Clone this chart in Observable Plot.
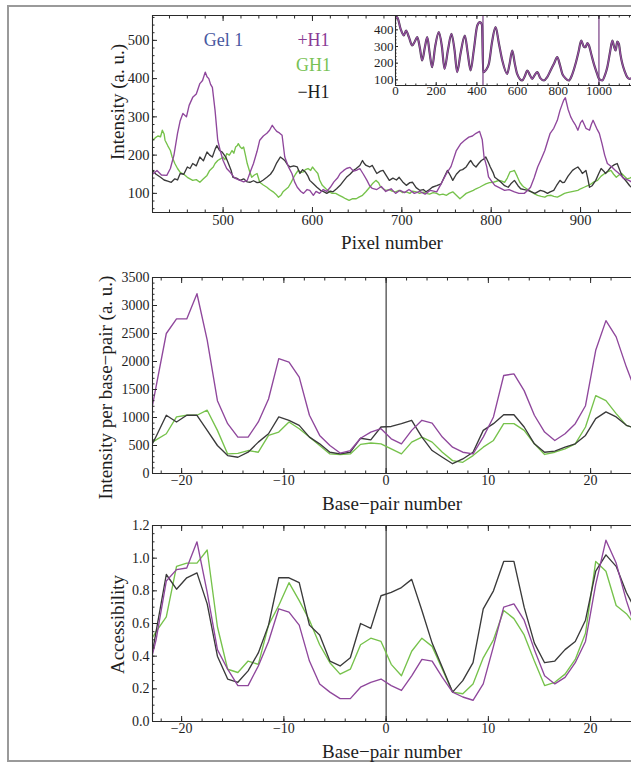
<!DOCTYPE html>
<html><head><meta charset="utf-8">
<script src="https://cdn.jsdelivr.net/npm/d3@7"></script>
<script src="https://cdn.jsdelivr.net/npm/@observablehq/plot@0.6"></script>
<style>
body{margin:0;background:#fff;}
#fig{position:relative;width:631px;height:764px;overflow:hidden;background:#fff;font-family:"Liberation Serif",serif;}
#border{position:absolute;left:7px;top:5px;width:700px;height:757px;border:2px solid #9a9a9a;box-sizing:border-box;}
.panel{position:absolute;}
</style></head><body>
<div id="fig"><div id="border"></div></div>
<script>
// ---------- Panel 1: gel intensity vs pixel number ----------
const gelPlusH1 = [[421,150],[426,160],[431,148],[437,147],[441,165],[445,200],[449,257],[452,290],[455,309],[459,300],[462,330],[466,351],[470,360],[474,387],[477,395],[480,417],[482,405],[484,400],[486,385],[488,377],[491,317],[494,239],[497,210],[500,186],[504,165],[508,155],[513,140],[519,134],[523,130],[527,134],[531,160],[534,178],[538,210],[541,239],[545,250],[549,257],[552,265],[555,278],[558,268],[560,262],[563,258],[566,252],[569,195],[573,170],[577,152],[580,130],[583,116],[587,105],[590,100],[594,110],[597,108],[601,95],[604,105],[608,100],[612,110],[616,105],[620,116],[624,130],[628,140],[631,152],[635,160],[638,165],[642,168],[646,158],[649,160],[653,165],[657,150],[661,134],[664,120],[667,113],[672,110],[677,118],[682,105],[688,112],[693,100],[698,108],[703,102],[708,110],[714,100],[720,105],[726,98],[732,108],[739,104],[744,125],[750,152],[755,170],[761,212],[766,230],[770,238],[775,247],[779,250],[783,257],[787,262],[790,240],[792,195],[795,170],[797,143],[801,130],[804,121],[809,115],[815,108],[820,110],[826,104],[831,100],[837,100],[841,108],[844,116],[848,140],[852,169],[856,190],[860,212],[863,235],[866,257],[870,270],[874,291],[877,317],[879,330],[881,343],[883,350],[886,320],[889,300],[891,291],[894,280],[897,265],[900,285],[902,291],[906,270],[910,265],[912,280],[914,291],[918,270],[921,257],[924,230],[927,200],[930,178],[935,169],[939,160],[943,152],[948,140],[954,134],[957,130]];
const gelGH1 = [[421,239],[424,245],[427,250],[430,248],[432,265],[434,255],[435,239],[438,225],[441,212],[443,195],[446,178],[449,165],[452,155],[456,150],[460,142],[463,138],[466,134],[470,136],[474,129],[478,138],[482,147],[485,160],[489,169],[491,178],[494,186],[497,190],[500,195],[502,188],[504,204],[507,200],[510,212],[512,205],[514,221],[516,225],[517,230],[519,222],[521,217],[523,221],[525,200],[527,178],[530,155],[532,142],[535,148],[538,152],[541,129],[545,122],[549,116],[552,110],[556,104],[559,98],[562,90],[565,96],[567,104],[570,110],[573,116],[576,128],[579,142],[581,150],[584,160],[587,155],[590,156],[592,162],[595,165],[598,160],[600,169],[603,160],[606,152],[608,135],[611,121],[615,112],[619,104],[622,100],[626,100],[630,95],[634,90],[637,86],[641,82],[645,86],[649,86],[652,90],[656,95],[660,105],[664,116],[667,125],[671,134],[674,128],[676,118],[679,112],[682,108],[686,110],[689,106],[693,104],[697,108],[701,102],[705,104],[709,100],[712,106],[716,104],[720,100],[724,103],[727,100],[731,98],[735,102],[739,100],[742,96],[746,98],[750,95],[753,100],[757,104],[761,95],[765,86],[768,92],[772,100],[776,104],[780,108],[783,112],[787,116],[790,120],[794,125],[798,128],[802,129],[805,131],[809,134],[812,132],[815,129],[818,140],[821,156],[824,158],[826,160],[829,145],[832,129],[835,120],[837,116],[841,110],[845,104],[849,98],[852,95],[856,92],[860,90],[863,94],[867,95],[870,92],[874,90],[878,95],[882,100],[885,102],[889,104],[893,106],[897,108],[900,112],[904,116],[908,120],[912,125],[915,130],[919,134],[923,145],[927,152],[930,156],[934,160],[937,150],[940,142],[943,148],[946,152],[949,145],[952,138],[955,140],[957,142]];
const gelMinusH1 = [[421,160],[425,150],[430,142],[434,135],[438,132],[442,129],[446,138],[449,135],[452,152],[456,150],[460,169],[463,165],[466,178],[470,172],[474,195],[478,185],[482,208],[485,200],[488,195],[491,215],[493,225],[496,212],[499,208],[503,195],[506,178],[509,160],[511,142],[515,140],[519,134],[523,138],[527,130],[530,129],[534,133],[538,128],[541,129],[545,135],[549,142],[553,150],[556,160],[560,180],[564,195],[567,190],[569,186],[572,175],[575,169],[579,172],[583,169],[586,152],[589,162],[592,156],[595,145],[597,134],[601,125],[605,116],[609,108],[613,104],[616,100],[620,106],[623,104],[627,112],[631,121],[634,130],[638,142],[642,150],[646,160],[649,165],[653,173],[656,186],[658,178],[660,173],[664,169],[667,173],[670,160],[672,152],[676,158],[679,160],[683,145],[686,134],[690,140],[694,135],[697,142],[701,130],[705,121],[709,128],[712,129],[716,115],[720,108],[724,110],[727,104],[731,110],[734,116],[739,120],[744,125],[747,140],[751,160],[754,148],[757,134],[761,150],[765,160],[768,162],[772,169],[775,180],[777,186],[780,175],[783,169],[786,178],[789,186],[792,190],[794,195],[797,180],[799,169],[802,155],[804,142],[808,135],[811,129],[815,120],[819,116],[822,125],[826,134],[830,120],[833,112],[837,110],[841,108],[845,104],[849,100],[852,104],[855,108],[859,105],[863,100],[866,104],[870,108],[873,120],[877,134],[880,128],[882,129],[886,145],[891,160],[894,165],[897,169],[900,160],[902,152],[906,160],[908,140],[910,116],[913,120],[917,134],[920,150],[923,165],[926,158],[928,152],[931,160],[934,169],[938,175],[941,178],[944,160],[947,142],[950,135],[952,129],[955,120],[957,116]];
const gelXTicks = [500,600,700,800,900];
const gelYTicks = [100,200,300,400,500];
const legendLabels = ["Gel 1","+H1","GH1","\u2212H1"];

// ---------- Inset: whole gel lane ----------
const lanePlusH1 = [[0,470],[8,476],[25,406],[41,366],[52,396],[66,356],[82,306],[95,330],[107,356],[120,290],[131,216],[145,300],[156,356],[168,260],[180,176],[195,300],[213,386],[228,300],[241,166],[258,280],[275,376],[290,280],[303,146],[320,260],[341,366],[355,260],[369,156],[385,280],[402,426],[415,446],[425,430],[431,146],[445,160],[459,196],[475,330],[492,416],[508,320],[525,216],[549,136],[560,190],[574,276],[586,200],[598,136],[623,96],[635,120],[648,156],[660,130],[672,106],[685,130],[697,146],[712,110],[730,96],[745,115],[762,156],[780,200],[795,236],[808,190],[820,136],[835,110],[852,96],[868,130],[885,196],[900,270],[913,336],[925,300],[934,296],[943,320],[951,306],[963,250],[975,196],[990,140],[1000,106],[1016,96],[1030,130],[1041,176],[1055,270],[1066,336],[1074,300],[1082,276],[1090,330],[1098,316],[1106,250],[1115,196],[1127,150],[1139,116],[1150,106],[1160,110]];
const laneWindow = [430,1000];
const laneXTicks = [0,200,400,600,800,1000];
const laneYTicks = [100,200,300,400];

// ---------- Panels 2 & 3: per base pair ----------
const bpPos = [-23.5,-22.5,-21.5,-20.5,-19.5,-18.5,-17.5,-16.5,-15.5,-14.5,-13.5,-12.5,-11.5,-10.5,-9.5,-8.5,-7.5,-6.5,-5.5,-4.5,-3.5,-2.5,-1.5,-0.5,0.5,1.5,2.5,3.5,4.5,5.5,6.5,7.5,8.5,9.5,10.5,11.5,12.5,13.5,14.5,15.5,16.5,17.5,18.5,19.5,20.5,21.5,22.5,23.5,24.5];
const bpIntPlusH1 = [600,1550,2500,2760,2760,3210,2380,1300,890,650,650,920,1330,2050,1990,1720,1040,680,500,365,410,630,740,800,620,530,770,950,900,650,470,380,350,650,1010,1750,1780,1480,1040,740,590,710,890,1210,2200,2730,2440,1900,1420];
const bpIntGH1 = [490,600,710,1010,1040,1040,1130,770,350,360,410,380,680,740,920,800,650,500,350,340,350,520,545,530,440,350,560,650,560,380,230,200,320,470,590,890,890,770,530,340,380,440,530,830,1390,1300,1070,860,800];
const bpIntMinusH1 = [300,660,1040,920,1040,1040,770,500,320,290,380,560,710,1010,950,860,650,530,380,350,380,630,600,830,840,890,950,650,410,290,175,260,380,770,890,1050,1050,830,530,380,400,470,530,680,980,1100,1010,860,800];
const accPlusH1 = [0.25,0.50,0.86,0.93,0.94,1.10,0.79,0.44,0.32,0.22,0.22,0.34,0.49,0.69,0.67,0.59,0.37,0.23,0.18,0.14,0.14,0.21,0.24,0.26,0.22,0.19,0.28,0.38,0.37,0.27,0.18,0.15,0.13,0.23,0.46,0.70,0.72,0.62,0.44,0.28,0.23,0.27,0.36,0.49,0.84,1.11,0.97,0.74,0.55];
const accGH1 = [0.45,0.55,0.64,0.95,0.97,0.97,1.05,0.58,0.32,0.30,0.37,0.35,0.59,0.71,0.85,0.74,0.62,0.47,0.36,0.29,0.32,0.47,0.51,0.49,0.35,0.28,0.43,0.51,0.46,0.32,0.18,0.17,0.23,0.39,0.50,0.68,0.63,0.53,0.37,0.22,0.24,0.29,0.38,0.54,0.98,0.92,0.71,0.66,0.58];
const accMinusH1 = [0.20,0.55,0.90,0.81,0.88,0.91,0.72,0.40,0.26,0.24,0.31,0.42,0.59,0.88,0.88,0.85,0.59,0.53,0.37,0.34,0.39,0.60,0.57,0.77,0.79,0.82,0.87,0.68,0.48,0.33,0.18,0.25,0.36,0.69,0.80,0.98,0.98,0.70,0.48,0.36,0.37,0.44,0.49,0.62,0.92,1.02,0.95,0.79,0.67];
const bpXTicks = [-20,-10,0,10,20];
const intYTicks = [0,500,1000,1500,2000,2500,3000,3500];
const accYTicks = [0,0.2,0.4,0.6,0.8,1.0,1.2];

// ---------- styling ----------
const FONT = "Liberation Serif";
const PURPLE = "#8f479c", GREEN = "#76c24b", BLACK = "#3a3a3a", FRAME = "#2a2a2a";
const TXT = "#1e1e1e";
const fmtNum = d => (d < 0 ? "\u2212" + Math.abs(d) : String(d));
const blank = () => "";
const inside = (arr, dom) => arr.filter(v => v > Math.min(...dom) + 1e-9 && v < Math.max(...dom) - 1e-9);

function framed(o) {
  const tl = o.tickLen ?? 5, ml = o.minorLen ?? 2.5;
  const xMin = inside(o.xMinor, o.xDomain), yMin = inside(o.yMinor, o.yDomain);
  return Plot.plot({
    width: o.width, height: o.height,
    marginTop: o.mt, marginBottom: o.mb, marginLeft: o.ml, marginRight: o.mr,
    x: {domain: o.xDomain}, y: {domain: o.yDomain},
    style: {fontFamily: FONT, background: "transparent", overflow: "visible", color: TXT},
    marks: [
      ...(o.pre || []),
      ...o.marks,
      Plot.ruleY([o.yDomain[0]], {stroke: FRAME, strokeWidth: 1.1}),
      Plot.ruleY([o.yDomain[1]], {stroke: FRAME, strokeWidth: 1.1}),
      Plot.ruleX([o.xDomain[0]], {stroke: FRAME, strokeWidth: 1.1}),
      Plot.axisY(o.yTicks, {anchor: "left", tickSize: 0, tickPadding: o.padY ?? 3, tickFormat: o.yFmt, fontSize: o.tickFont, label: null}),
      Plot.axisY(o.yTicks, {anchor: "left", tickSize: -tl, tickFormat: blank, label: null, stroke: FRAME}),
      Plot.axisY(yMin, {anchor: "left", tickSize: -ml, tickFormat: blank, label: null, stroke: FRAME}),
      Plot.axisX(o.xTicks, {anchor: "bottom", tickSize: 0, tickPadding: o.padX ?? 2, tickFormat: o.xFmt, fontSize: o.tickFont, label: null}),
      Plot.axisX(o.xTicks, {anchor: "bottom", tickSize: -tl, tickFormat: blank, label: null, stroke: FRAME}),
      Plot.axisX(xMin, {anchor: "bottom", tickSize: -ml, tickFormat: blank, label: null, stroke: FRAME}),
      Plot.axisX(o.xTicks, {anchor: "top", tickSize: -tl, tickFormat: blank, label: null, stroke: FRAME}),
      Plot.axisX(xMin, {anchor: "top", tickSize: -ml, tickFormat: blank, label: null, stroke: FRAME}),
      ...(o.post || [])
    ]
  });
}
function place(svg, left, top) {
  const d = document.createElement("div");
  d.className = "panel";
  d.style.left = left + "px"; d.style.top = top + "px";
  d.appendChild(svg);
  document.getElementById("fig").appendChild(d);
}
const lineOpts = (stroke) => ({x: d => d[0], y: d => d[1], stroke, strokeWidth: 1.35, clip: true});
const zip = (xs, ys) => xs.map((x, i) => [x, ys[i]]);
const titleX = (t) => Plot.text([t], {frameAnchor: "bottom", dy: 30, fontSize: 19, fill: TXT, textAnchor: "middle", lineAnchor: "middle"});
const titleY = (t, dx, dy) => Plot.text([t], {frameAnchor: "left", rotate: -90, dx, dy, fontSize: 19, fill: TXT, textAnchor: "middle", lineAnchor: "middle"});
const legend = (t, dx, dy, fill) => Plot.text([t], {frameAnchor: "top-left", dx, dy, fontSize: 18, fill, textAnchor: "middle", lineAnchor: "middle"});

// Panel 1
const p1x = [421, 957];
place(framed({
  width: 631, height: 256, mt: 15, mb: 44, ml: 152, mr: 0,
  xDomain: p1x, yDomain: [50, 565],
  xTicks: gelXTicks, xMinor: d3.range(420, 960, 20),
  yTicks: gelYTicks, yMinor: d3.range(60, 565, 20),
  xFmt: fmtNum, yFmt: fmtNum, tickFont: 14.5,
  marks: [
    Plot.line(gelGH1, lineOpts(GREEN)),
    Plot.line(gelMinusH1, lineOpts(BLACK)),
    Plot.line(gelPlusH1, lineOpts(PURPLE)),
    legend(legendLabels[0], 71, 25, "#4858a0"),
    legend(legendLabels[1], 161, 25, "#8a3c96"),
    legend(legendLabels[2], 161, 50, "#78c255"),
    legend(legendLabels[3], 161, 77, TXT),
    titleX("Pixel number"),
    titleY("Intensity (a. u.)", -35, -12)
  ]
}), 0, 0);

// Panel 2
const bpDom = [-22.85, 24.0];
place(framed({
  width: 631, height: 258, mt: 19, mb: 43, ml: 152, mr: 0,
  xDomain: bpDom, yDomain: [0, 3500],
  xTicks: bpXTicks, xMinor: d3.range(-22, 25, 2),
  yTicks: intYTicks, yMinor: d3.range(0, 3500, 100),
  xFmt: fmtNum, yFmt: fmtNum, tickFont: 14,
  marks: [
    Plot.ruleX([0], {stroke: FRAME, strokeWidth: 1.1}),
    Plot.line(zip(bpPos, bpIntGH1), lineOpts(GREEN)),
    Plot.line(zip(bpPos, bpIntMinusH1), lineOpts(BLACK)),
    Plot.line(zip(bpPos, bpIntPlusH1), lineOpts(PURPLE)),
    titleX("Base\u2212pair number"),
    titleY("Intensity per base\u2212pair (a. u.)", -47, 12)
  ]
}), 0, 258);

// Panel 3
place(framed({
  width: 631, height: 248, mt: 9, mb: 43, ml: 152, mr: 0,
  xDomain: bpDom, yDomain: [0, 1.2],
  xTicks: bpXTicks, xMinor: d3.range(-22, 25, 2),
  yTicks: accYTicks, yMinor: d3.range(0, 1.2, 0.05),
  xFmt: fmtNum, yFmt: d => d.toFixed(1), tickFont: 14,
  marks: [
    Plot.ruleX([0], {stroke: FRAME, strokeWidth: 1.1}),
    Plot.line(zip(bpPos, accGH1), lineOpts(GREEN)),
    Plot.line(zip(bpPos, accMinusH1), lineOpts(BLACK)),
    Plot.line(zip(bpPos, accPlusH1), lineOpts(PURPLE)),
    titleX("Base\u2212pair number"),
    titleY("Accessibility", -35, 1)
  ]
}), 0, 516);

// Inset
place(framed({
  width: 276, height: 100, mt: 15, mb: 15, ml: 40, mr: 0,
  xDomain: [0, 1160], yDomain: [66, 486],
  xTicks: laneXTicks, xMinor: d3.range(0, 1160, 50),
  yTicks: laneYTicks, yMinor: d3.range(80, 486, 20),
  xFmt: fmtNum, yFmt: fmtNum, tickFont: 13, tickLen: 3, minorLen: 1.5, padY: 2, padX: 0,
  pre: [Plot.frame({fill: "white", stroke: "none"})],
  marks: [
    Plot.ruleX(laneWindow, {stroke: "#6a2a78", strokeWidth: 1.1}),
    Plot.line(lanePlusH1, {x: d => d[0], y: d => d[1], stroke: "#4a3a50", strokeWidth: 2.2, curve: "monotone-x", clip: true}),
    Plot.line(lanePlusH1, {x: d => d[0], y: d => d[1], stroke: "#9a4fa6", strokeWidth: 1.2, curve: "monotone-x", clip: true})
  ]
}), 355, 0);
</script></body></html>
